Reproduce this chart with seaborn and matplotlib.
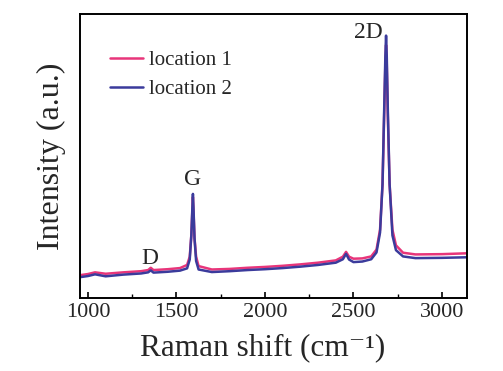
import matplotlib
matplotlib.use("Agg")
import matplotlib.pyplot as plt
from matplotlib.ticker import MultipleLocator, NullLocator
import seaborn as sns
import pandas as pd

# Raman shift sample points (cm^-1) and intensities (a.u.)
shift = [955, 1000, 1040, 1100, 1200, 1300, 1340, 1355, 1370, 1450, 1520, 1560,
         1575, 1584, 1590, 1593, 1596, 1602, 1611, 1625, 1700, 1800, 1900, 2000,
         2100, 2200, 2300, 2400, 2440, 2458, 2475, 2500, 2550, 2600, 2630, 2650,
         2664, 2674, 2680, 2684, 2688, 2694, 2704, 2720, 2740, 2780, 2850, 3000, 3140]

loc1 = [8.0, 8.4, 9.0, 8.5, 9.0, 9.4, 9.8, 10.6, 9.8, 10.1, 10.5, 11.6,
        14.5, 22, 31, 35.5, 31, 21, 14.5, 11.2, 10.0, 10.2, 10.6, 10.9,
        11.3, 11.8, 12.4, 13.2, 14.5, 16.2, 14.5, 13.8, 13.9, 14.6, 17.0, 24,
        40, 66, 82, 89.0, 82, 64, 40, 24, 18.5, 15.9, 15.3, 15.4, 15.7]

loc2 = [7.3, 7.7, 8.3, 7.6, 8.2, 8.6, 9.0, 9.7, 8.9, 9.2, 9.6, 10.4,
        13.5, 22, 32, 36.6, 32, 21, 13.0, 10.0, 9.1, 9.4, 9.8, 10.1,
        10.5, 11.0, 11.6, 12.4, 13.6, 15.5, 13.5, 12.6, 12.8, 13.6, 16.0, 23,
        40, 68, 85, 92.3, 85, 66, 40, 22, 16.8, 14.6, 14.0, 14.1, 14.3]

series_names = ["location 1", "location 2"]
colors = ["#e8357a", "#3b3b9c"]

peak_labels = ["D", "G", "2D"]
peak_x = [1350, 1593, 2583]
peak_y = [14.0, 41.5, 93.3]

df = pd.DataFrame({
    "shift": shift * 2,
    "intensity": loc1 + loc2,
    "series": [series_names[0]] * len(shift) + [series_names[1]] * len(shift),
})

sns.set_style("ticks")
plt.rcParams["font.family"] = ["Liberation Serif", "DejaVu Serif"]

fig = plt.figure(figsize=(5.03, 3.71), dpi=100)
ax = fig.add_axes([0.159, 0.197, 0.769, 0.766])

sns.lineplot(data=df, x="shift", y="intensity", hue="series",
             palette=dict(zip(series_names, colors)), ax=ax,
             linewidth=1.8, sort=False, estimator=None)

ax.set_xlim(955, 3140)
ax.set_ylim(0, 100)
ax.xaxis.set_major_locator(MultipleLocator(500))
ax.xaxis.set_minor_locator(MultipleLocator(250))
ax.yaxis.set_major_locator(NullLocator())
ax.tick_params(axis="x", which="major", direction="in", length=4.5, width=1.2,
               labelsize=16, pad=4, color="black")
ax.tick_params(axis="x", which="minor", direction="in", length=3, width=1.0,
               color="black")
for sp in ax.spines.values():
    sp.set_linewidth(1.4)
    sp.set_color("black")

ax.set_xlabel("Raman shift (cm\u207b\u00b9)", fontsize=22.5)
ax.xaxis.set_label_coords(0.473, -0.125)
ax.set_ylabel("Intensity (a.u.)", fontsize=23, labelpad=10)

for t, x, y in zip(peak_labels, peak_x, peak_y):
    ax.text(x, y, t, fontsize=17, ha="center", va="center")

leg = ax.legend(loc="upper left", bbox_to_anchor=(0.078, 0.871), frameon=False,
                fontsize=15, handlelength=1.6, handletextpad=0.25,
                labelspacing=0.45, borderaxespad=0, borderpad=0)
for line in leg.get_lines():
    line.set_linewidth(1.8)

fig.savefig("out.png", dpi=100)
